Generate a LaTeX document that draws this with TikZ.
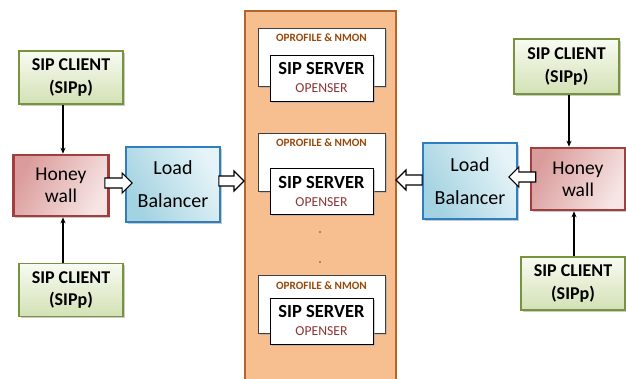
\documentclass[tikz,border=0pt]{standalone}
\usepackage{fontspec}
\setmainfont{Carlito}
\usetikzlibrary{arrows.meta,calc,shadows}

\definecolor{colfill}{HTML}{F7BE8F}
\definecolor{coldraw}{HTML}{B5652A}
\definecolor{clientdraw}{HTML}{77933C}
\definecolor{clienttop}{HTML}{F8FBF2}
\definecolor{clientbot}{HTML}{D3E1B5}
\definecolor{hwdraw}{HTML}{A23F3D}
\definecolor{hwdark}{HTML}{DA9C9B}
\definecolor{hwlight}{HTML}{F6E5E4}
\definecolor{lbdraw}{HTML}{2E7EC2}
\definecolor{lbdark}{HTML}{A3D2E1}
\definecolor{lblight}{HTML}{E6F4F8}
\definecolor{oprof}{HTML}{984807}
\definecolor{openser}{HTML}{8E3535}

\tikzset{
  softshadow/.style={drop shadow={shadow xshift=1.5pt, shadow yshift=-1.5pt, fill=black!35, opacity=0.6}},
  client/.style={draw=clientdraw, line width=1.8pt, top color=clienttop, bottom color=clientbot,
    minimum width=104pt, minimum height=53pt, align=center, inner sep=0pt, softshadow,
    font=\bfseries\fontsize{18}{22.5}\selectfont},
  honey/.style={draw=hwdraw, line width=2.6pt, left color=hwdark, right color=hwlight, shading angle=60,
    minimum width=95pt, minimum height=61pt, align=center, inner sep=0pt, softshadow,
    font=\fontsize{19.5}{22}\selectfont},
  balancer/.style={draw=lbdraw, line width=1.8pt, left color=lbdark, right color=lblight, shading angle=120,
    minimum width=94pt, minimum height=75pt, align=center, inner sep=0pt, softshadow,
    font=\fontsize{20}{33}\selectfont},
  column/.style={draw=coldraw, fill=colfill, line width=2pt, minimum width=151pt, minimum height=380pt, inner sep=0pt},
  outerbox/.style={draw=black!75, fill=white, line width=0.9pt, minimum width=127pt, minimum height=58pt, inner sep=0pt, softshadow},
  innerbox/.style={draw=black, fill=white, line width=1pt, minimum width=103pt, minimum height=46pt, inner sep=0pt, softshadow},
  oproftext/.style={text=oprof, font=\bfseries\fontsize{11.2}{13}\selectfont, inner sep=0pt},
  servertext/.style={font=\bfseries\fontsize{18.5}{20}\selectfont, inner sep=0pt},
  opensertext/.style={text=openser, font=\fontsize{13.7}{15}\selectfont, inner sep=0pt},
  conn/.style={draw=black, line width=1.5pt, -{Stealth[length=6pt,width=5pt]}},
  blockarrow/.style={draw=black, fill=white, line width=1.1pt, line join=miter,
    to path={let \p1=(\tikztostart), \p2=(\tikztotarget),
      \n1={ifthenelse(\x2>\x1,1,-1)} in
      (\x1,{\y1+5pt}) -- ({\x2-\n1*10pt},{\y1+5pt}) -- ({\x2-\n1*10pt},{\y1+10pt})
      -- (\x2,\y1) -- ({\x2-\n1*10pt},{\y1-10pt}) -- ({\x2-\n1*10pt},{\y1-5pt})
      -- (\x1,{\y1-5pt}) -- cycle}},
  dotmark/.style={circle, fill=black!70, inner sep=0pt, minimum size=1.8pt}
}

\begin{document}
\begin{tikzpicture}[x=1pt, y=-1pt]
\useasboundingbox (0,0) rectangle (626,378);

% central column
\begin{scope}
\clip (0,0) rectangle (626,378);
\node[column] (col) at (320.5,201) {};
\end{scope}

% server groups
\node[outerbox] (o1) at (321.5,57) {};
\node[oproftext] (t1) at ([yshift=-10pt]o1.north) {OPROFILE \& NMON};
\node[innerbox] (s1) at (321.5,78) {};
\node[servertext] (n1) at ([yshift=-14pt]s1.north) {SIP SERVER};
\node[opensertext] (p1) at ([yshift=-34pt]s1.north) {OPENSER};

\node[outerbox] (o2) at (321.5,162) {};
\node[oproftext] (t2) at ([yshift=-10pt]o2.north) {OPROFILE \& NMON};
\node[innerbox] (s2) at (321.5,191.5) {};
\node[servertext] (n2) at ([yshift=-14pt]s2.north) {SIP SERVER};
\node[opensertext] (p2) at ([yshift=-34.5pt]s2.north) {OPENSER};

\node[dotmark] (d1) at (320,232) {};
\node[dotmark] (d2) at (320,262) {};

\node[outerbox] (o3) at (321.5,304) {};
\node[oproftext] (t3) at ([yshift=-11pt]o3.north) {OPROFILE \& NMON};
\node[innerbox] (s3) at (321.5,321) {};
\node[servertext] (n3) at ([yshift=-13.5pt]s3.north) {SIP SERVER};
\node[opensertext] (p3) at ([yshift=-33.5pt]s3.north) {OPENSER};

% left side
\node[client] (cl1) at (71,77.5) {SIP CLIENT\\(SIPp)};
\node[client] (cl2) at (71,290) {SIP CLIENT\\(SIPp)};
\node[honey] (hw1) at (61,185.5) {Honey\\wall};
\node[balancer] (lb1) at (173,184.5) {Load\\Balancer};

% right side
\node[client, minimum width=105pt, minimum height=55pt] (cl3) at (566.5,66.5) {SIP CLIENT\\(SIPp)};
\node[client] (cl4) at (573,283.5) {SIP CLIENT\\(SIPp)};
\node[honey, minimum width=94pt, minimum height=62pt] (hw2) at (578,179) {Honey\\wall};
\node[balancer, minimum height=76pt] (lb2) at (470,181) {Load\\Balancer};

% thin connectors
\draw[conn] ([xshift=-8pt]cl1.south) -- ([xshift=-8pt]cl1.south |- hw1.north);
\draw[conn] ([xshift=-8pt]cl2.north) -- ([xshift=-8pt]cl2.north |- hw1.south);
\draw[conn] ([xshift=2.5pt]cl3.south) -- ([xshift=2.5pt]cl3.south |- hw2.north);
\draw[conn] ([xshift=1pt]cl4.north) -- ([xshift=1pt]cl4.north |- hw2.south);

% block arrows
\draw[blockarrow] ([xshift=-5pt,yshift=2.5pt]hw1.east) to ([xshift=7pt]lb1.west);
\draw[blockarrow] ([xshift=-2pt,yshift=3.5pt]lb1.east) to (col.west);
\draw[blockarrow] ([xshift=6pt,yshift=2pt]hw2.west) to ([xshift=-9pt]lb2.east);
\draw[blockarrow] ([yshift=1pt]lb2.west) to ([xshift=-1pt]col.east);
\end{tikzpicture}
\end{document}
